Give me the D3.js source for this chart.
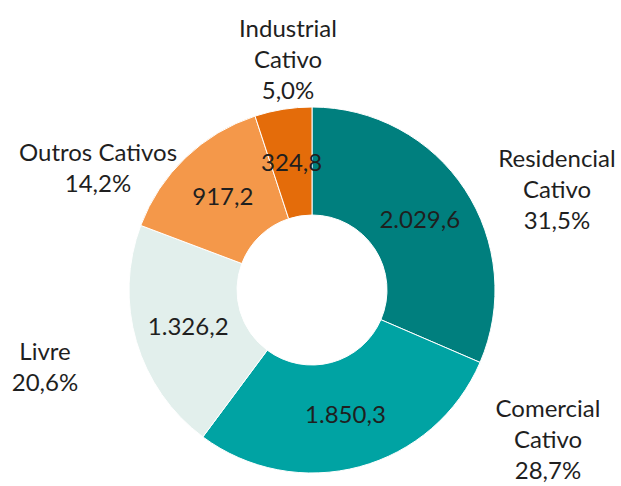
<!DOCTYPE html>
<html>
<head>
<meta charset="utf-8">
<script src="https://cdn.jsdelivr.net/npm/d3@7"></script>
<style>
  body { margin: 0; background: #fff; }
  text { font-family: Lato, "Liberation Sans", sans-serif; fill: #1f1f1f; }
</style>
</head>
<body>
<div id="chart"></div>
<script>
// Data
const categories = ["Residencial Cativo", "Comercial Cativo", "Livre", "Outros Cativos", "Industrial Cativo"];
const values = [2029.6, 1850.3, 1326.2, 917.2, 324.8];
const nameLines = [["Residencial", "Cativo"], ["Comercial", "Cativo"], ["Livre"], ["Outros Cativos"], ["Industrial", "Cativo"]];
const colors = ["#007F7E", "#00A3A3", "#E2EFEC", "#F4984A", "#E46C0A"];

// label anchors (block centre, relative to donut centre)
const labelPos = [[245, -100], [236, 150], [-267, 77], [-214, -122], [-24, -230]];

const W = 621, H = 486;
const cx = 312, cy = 290;
const outerR = 183, innerR = 75;
const fontSize = 24, lineH = 31;

// thousands with dot, decimal with comma
const fmtVal = v => {
  const [i, d] = v.toFixed(1).split(".");
  return i.replace(/\B(?=(\d{3})+(?!\d))/g, ".") + "," + d;
};
const total = d3.sum(values);
const fmtPct = v => (v / total * 100).toFixed(1).replace(".", ",") + "%";

const svg = d3.select("#chart")
  .append("svg")
  .attr("width", W)
  .attr("height", H);

const g = svg.append("g")
  .attr("transform", `translate(${cx},${cy})`);

const pie = d3.pie().sort(null).value(d => d);
const arcs = pie(values);

const arc = d3.arc().innerRadius(innerR).outerRadius(outerR);

// Slices
g.selectAll("path")
  .data(arcs)
  .join("path")
  .attr("d", arc)
  .attr("fill", (d, i) => colors[i])
  .attr("stroke", "#fff")
  .attr("stroke-width", 1);

// Value labels
g.selectAll("text.val")
  .data(arcs)
  .join("text")
  .attr("class", "val")
  .attr("transform", d => `translate(${arc.centroid(d)})`)
  .attr("text-anchor", "middle")
  .attr("dy", "0.35em")
  .style("font-size", fontSize + "px")
  .text(d => fmtVal(d.value));

// Category labels
arcs.forEach((d, i) => {
  const lines = nameLines[i].concat([fmtPct(d.value)]);
  const [lx, ly] = labelPos[i];
  const t = g.append("text")
    .attr("text-anchor", "middle")
    .style("font-size", fontSize + "px");
  lines.forEach((s, k) => {
    t.append("tspan")
      .attr("x", lx)
      .attr("y", ly + (k - (lines.length - 1) / 2) * lineH)
      .attr("dy", "0.35em")
      .text(s);
  });
});
</script>
</body>
</html>
